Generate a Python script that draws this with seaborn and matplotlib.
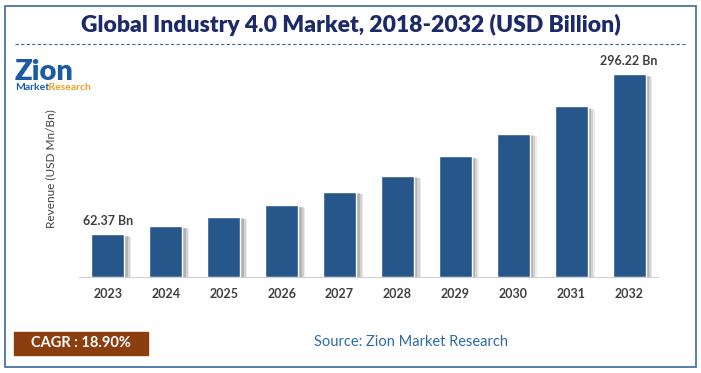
import matplotlib
matplotlib.use("Agg")
import matplotlib.pyplot as plt
import matplotlib.patheffects as pe
from matplotlib.patches import Rectangle
import seaborn as sns
import pandas as pd

years = ["2023", "2024", "2025", "2026", "2027", "2028", "2029", "2030", "2031", "2032"]
revenue = [62.37, 74.2, 88.2, 104.8, 124.6, 148.2, 176.2, 209.5, 249.1, 296.22]
label_text = {"2023": "62.37 Bn", "2032": "296.22 Bn"}

df = pd.DataFrame({"year": years, "revenue": revenue})

sns.set_style("white")
plt.rcParams["font.family"] = ["Lato", "DejaVu Sans"]

fig = plt.figure(figsize=(7.01, 3.73), dpi=100)
ax = fig.add_axes([79 / 701, 96 / 373, 579 / 701, 217 / 373])

bar_color = "#27578a"
sns.barplot(data=df, x="year", y="revenue", color=bar_color, width=0.57,
            saturation=1, ax=ax)
# soft drop shadow to the right of each bar
shadow = [pe.SimplePatchShadow(offset=(5, -2), shadow_rgbFace="#999999", alpha=0.18),
          pe.SimplePatchShadow(offset=(4, -1.5), shadow_rgbFace="#888888", alpha=0.25),
          pe.SimplePatchShadow(offset=(2.5, -1), shadow_rgbFace="#777777", alpha=0.35),
          pe.Normal()]
for p in ax.patches:
    p.set_path_effects(shadow)

for i, (yr, v) in enumerate(zip(years, revenue)):
    if yr in label_text:
        ax.text(i, v + 10, label_text[yr], ha="center", va="bottom",
                fontsize=9, fontweight="bold", color="#404040")

ax.set_xlim(-0.5, 9.5)
ax.set_ylim(0, 317)
ax.set_yticks([])
ax.set_xlabel("")
ax.set_ylabel("Revenue (USD Mn/Bn)", fontsize=8.5, color="#404040", labelpad=16)
for s in ["top", "right", "left"]:
    ax.spines[s].set_visible(False)
ax.spines["bottom"].set_color("#d0d0d0")
ax.tick_params(axis="x", length=0, pad=8, labelsize=9, labelcolor="#404040")
for t in ax.get_xticklabels():
    t.set_fontweight("bold")

# frame and header
fig.patches.append(Rectangle((5 / 701, 6 / 373), 691 / 701, 361 / 373, transform=fig.transFigure,
                             fill=False, edgecolor="#3a6a9a", linewidth=1.2))
fig.text(0.5, 1 - 25 / 373, "Global Industry 4.0 Market, 2018-2032 (USD Billion)",
         ha="center", va="center", fontsize=16.5, fontweight="heavy", color="#1c2a6a")
fig.lines.append(plt.Line2D([15 / 701, 686 / 701], [1 - 44 / 373, 1 - 44 / 373],
                            transform=fig.transFigure, color="#3a6a9a", lw=0.8, ls=(0, (3, 2))))

# logo
fig.text(15 / 701, 1 - 72 / 373, "Zion", ha="left", va="center", fontsize=21,
         fontweight="heavy", color="#1a5aa6")
fig.text(15 / 701, 1 - 88 / 373, "Market", ha="left", va="center", fontsize=7.5,
         fontweight="bold", color="#1a5aa6")
fig.text(47 / 701, 1 - 88 / 373, ".Research", ha="left", va="center", fontsize=7.5,
         fontweight="bold", color="#f0a020")

# footer
fig.patches.append(Rectangle((14 / 701, 1 - 355 / 373), 134 / 701, 23 / 373,
                             transform=fig.transFigure, color="#8b3e0f"))
fig.text(81 / 701, 1 - 343 / 373, "CAGR : 18.90%", ha="center", va="center",
         fontsize=10.5, fontweight="bold", color="white")
fig.text(411 / 701, 1 - 342 / 373, "Source: Zion Market Research", ha="center", va="center",
         fontsize=10.5, color="#2f6aa6")

fig.savefig("out.png", dpi=100)
